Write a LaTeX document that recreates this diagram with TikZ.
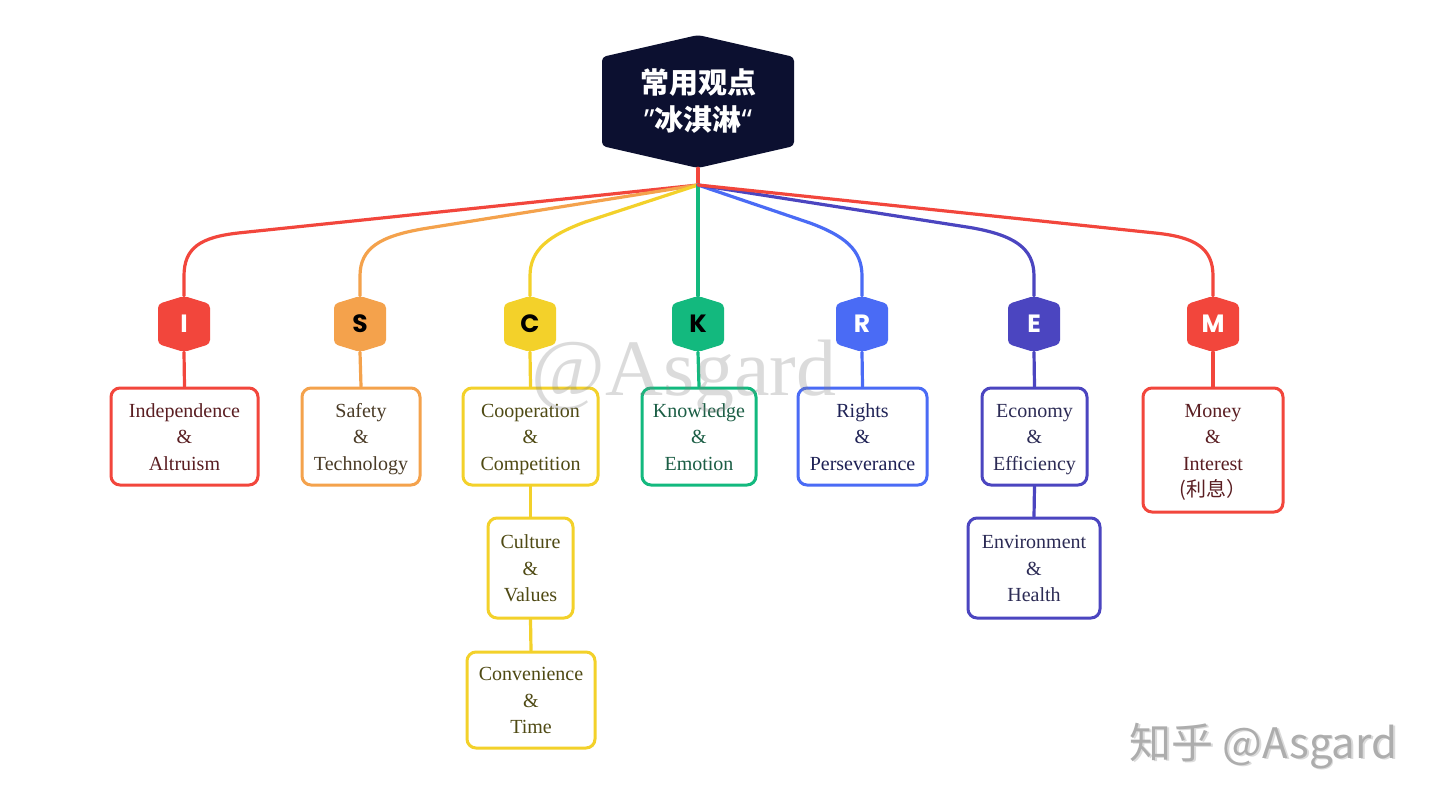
\documentclass[tikz,border=0pt]{standalone}
\usepackage{fontspec}
\setmainfont{Liberation Serif}
\newfontfamily\cjkfont{Noto Sans CJK SC}
\newfontfamily\quotefont{Noto Sans}
\newfontfamily\letterfont{Poppins}
\usetikzlibrary{calc}

% branch colours
\definecolor{cRoot}{HTML}{0C1030}
\definecolor{cI}{HTML}{F2463C}
\definecolor{cS}{HTML}{F4A24C}
\definecolor{cC}{HTML}{F3D12A}
\definecolor{cK}{HTML}{13B97E}
\definecolor{cR}{HTML}{4A6BF5}
\definecolor{cE}{HTML}{4B45C0}
\definecolor{cM}{HTML}{F2463C}
% text colours inside the boxes
\definecolor{tI}{HTML}{5A1E22}
\definecolor{tS}{HTML}{4A3B26}
\definecolor{tC}{HTML}{4F4A14}
\definecolor{tK}{HTML}{1B5E45}
\definecolor{tR}{HTML}{1F2256}
\definecolor{tE}{HTML}{2C2B55}
\definecolor{tM}{HTML}{5A1E22}

% struts that fix the first and last line of each box text
\newcommand\firststrut{\rule{0pt}{20pt}}
\newcommand\laststrut{\rule[-6pt]{0pt}{6pt}}

\tikzset{
  hexshape/.style 2 args={
    path picture={
      \fill[#1, rounded corners=4pt]
        (path picture bounding box.north)
        -- ([yshift=-#2]path picture bounding box.north east)
        -- ([yshift=#2]path picture bounding box.south east)
        -- (path picture bounding box.south)
        -- ([yshift=#2]path picture bounding box.south west)
        -- ([yshift=-#2]path picture bounding box.north west)
        -- cycle;
    }
  },
  letterhex/.style 2 args={
    hexshape={#1}{8pt}, minimum width=52pt, minimum height=56pt,
    inner sep=0pt, text=#2,
    font=\letterfont\bfseries\fontsize{25}{28}\selectfont
  },
  conn/.style={draw=#1, line width=3.2pt, line join=round, line cap=round},
  topic/.style={draw=#1, line width=3pt, rounded corners=9pt, fill=white,
    align=center, inner sep=0pt,
    font=\fontsize{20}{26.5}\selectfont},
}

\begin{document}
\begin{tikzpicture}[x=1pt, y=-1pt]
\useasboundingbox (0,0) rectangle (1440,811);
\fill[white] (0,0) rectangle (1440,811);

% root node
\node[hexshape={cRoot}{22pt}, minimum width=192pt, minimum height=133pt,
      inner sep=0pt, text=white, align=center,
      font=\cjkfont\bfseries\fontsize{29}{37}\selectfont]
  (root) at (698,101.5) {常用观点\\{\quotefont\bfseries ”}冰淇淋{\quotefont\bfseries “}};
\coordinate (hub) at (698,185);

% letter nodes
\node[letterhex={cI}{white}] (I) at (184,324) {I};
\node[letterhex={cS}{black}] (S) at (360,324) {S};
\node[letterhex={cC}{black}] (C) at (530,324) {C};
\node[letterhex={cK}{black}] (K) at (698,324) {K};
\node[letterhex={cR}{white}] (R) at (862,324) {R};
\node[letterhex={cE}{white}] (E) at (1034,324) {E};
\node[letterhex={cM}{white}] (M) at (1213,324) {M};

% topic boxes
\node[topic=cI, text=tI, minimum width=147pt, minimum height=97pt] (bI) at (184.5,436.5) {\firststrut Independence\\\&\\Altruism\laststrut};
\node[topic=cS, text=tS, minimum width=118pt, minimum height=97pt] (bS) at (361,436.5) {\firststrut Safety\\\&\\Technology\laststrut};
\node[topic=cC, text=tC, minimum width=135pt, minimum height=97pt] (bC) at (530.5,436.5) {\firststrut Cooperation\\\&\\Competition\laststrut};
\node[topic=cK, text=tK, minimum width=114pt, minimum height=97pt] (bK) at (699,436.5) {\firststrut Knowledge\\\&\\Emotion\laststrut};
\node[topic=cR, text=tR, minimum width=129pt, minimum height=97pt] (bR) at (862.5,436.5) {\firststrut Rights\\\&\\Perseverance\laststrut};
\node[topic=cE, text=tE, minimum width=105pt, minimum height=97pt] (bE) at (1034.5,436.5) {\firststrut Economy\\\&\\Efficiency\laststrut};
\node[topic=cM, text=tM, minimum width=140pt, minimum height=124pt] (bM) at (1213,450) {\firststrut Money\\\&\\Interest\\{\cjkfont (利息）}\laststrut};
\node[topic=cC, text=tC, minimum width=85pt, minimum height=100pt] (bC2) at (530.5,568) {\firststrut Culture\\\&\\Values\laststrut};
\node[topic=cC, text=tC, minimum width=128pt, minimum height=96pt] (bC3) at (531,700) {\firststrut Convenience\\\&\\Time\laststrut};
\node[topic=cE, text=tE, minimum width=132pt, minimum height=100pt] (bE2) at (1034,568) {\firststrut Environment\\\&\\Health\laststrut};

% connectors from the root
\draw[conn=cI] (root.south) -- (hub);
\draw[conn=cI] (hub) -- (240,232.8) .. controls (200,237) and (184,248) .. (184,276) -- (I.north);
\draw[conn=cS] (hub) -- (425,228.5) .. controls (380,236) and (360,248) .. (360,276) -- (S.north);
\draw[conn=cC] (hub) -- (585,222) .. controls (548,236) and (530,250) .. (530,276) -- (C.north);
\draw[conn=cK] (hub) -- (K.north);
\draw[conn=cR] (hub) -- (810,223) .. controls (845,236) and (862,250) .. (862,276) -- (R.north);
\draw[conn=cE] (hub) -- (970,227.5) .. controls (1014,235) and (1034,248) .. (1034,276) -- (E.north);
\draw[conn=cM] (hub) -- (1155,233) .. controls (1195,237) and (1213,248) .. (1213,276) -- (M.north);

% connectors from letters to topic boxes
\draw[conn=cI] (I.south) -- (bI.north);
\draw[conn=cS] (S.south) -- (bS.north);
\draw[conn=cC] (C.south) -- (bC.north);
\draw[conn=cK] (K.south) -- (bK.north);
\draw[conn=cR] (R.south) -- (bR.north);
\draw[conn=cE] (E.south) -- (bE.north);
\draw[conn=cM] (M.south) -- (bM.north);
\draw[conn=cC] (bC.south) -- (bC2.north);
\draw[conn=cC] (bC2.south) -- (bC3.north);
\draw[conn=cE] (bE.south) -- (bE2.north);

% watermarks
\node[text=gray, opacity=0.28, font=\fontsize{80}{80}\selectfont, inner sep=0pt]
  (wm) at (684,376) {@Asgard};
\node[text=black!14, font=\cjkfont\fontsize{42}{42}\selectfont, inner sep=0pt]
  (wm2s) at (1265.2,747.2) {知乎 @Asgard};
\node[text=black!32, font=\cjkfont\fontsize{42}{42}\selectfont, inner sep=0pt]
  (wm2) at (1263.5,746) {知乎 @Asgard};
\end{tikzpicture}
\end{document}
